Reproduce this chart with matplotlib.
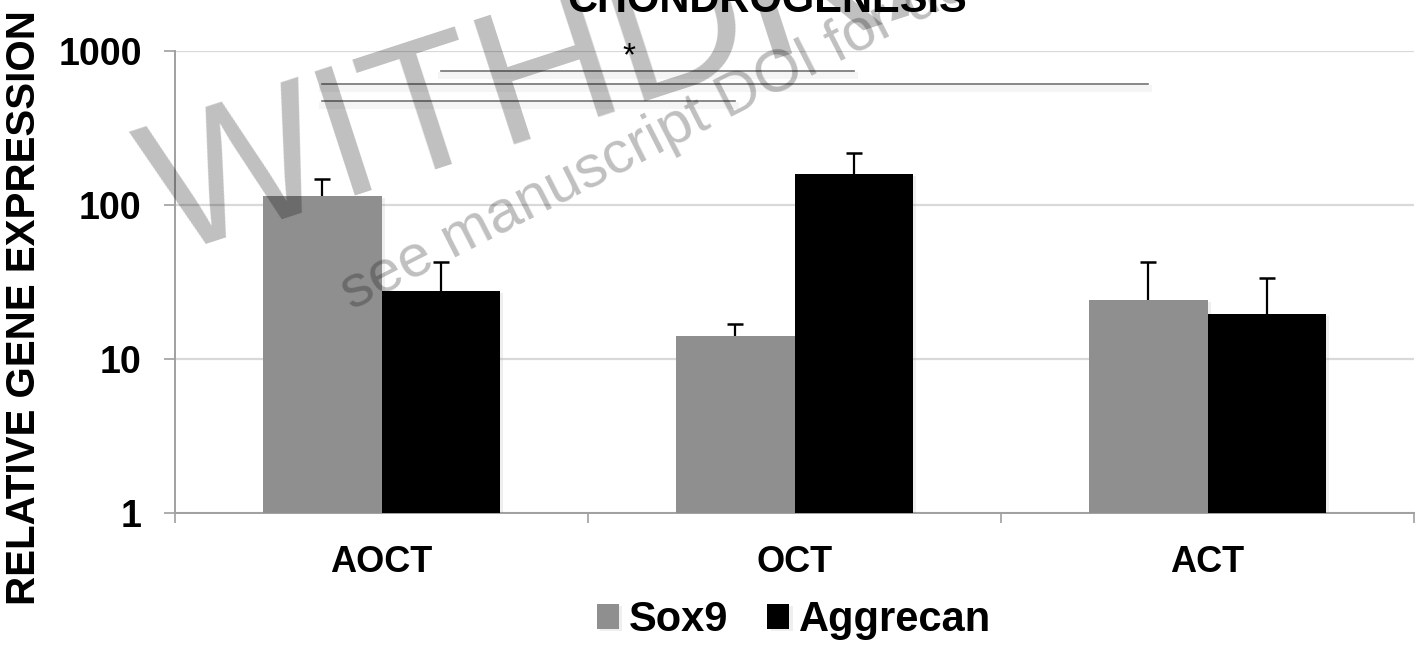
import numpy as np
import matplotlib
matplotlib.use("Agg")
import matplotlib.pyplot as plt
import matplotlib.patheffects as pe

plt.rcParams['font.family'] = ['Liberation Sans', 'DejaVu Sans']

# relative gene expression per construct
groups = ["AOCT", "OCT", "ACT"]
sox9 = [114, 14.1, 24.2]
sox9_err = [33, 2.8, 18.4]
aggrecan = [27.6, 159, 19.6]
aggrecan_err = [15, 59, 14]

# significance brackets: (series index, group a, group b, height)
brackets = [(1, 0, 1, 741), (0, 0, 2, 611), (0, 0, 1, 473)]

fig = plt.figure(figsize=(14.16, 6.46), dpi=100)
ax = fig.add_axes([175/1416, 1-513/646, 1239/1416, 462/646])

x = np.arange(len(groups))
w = 0.286
shadow = [pe.SimplePatchShadow(offset=(2.5, -1.5), shadow_rgbFace='gray', alpha=0.12), pe.Normal()]
ax.bar(x - w/2, sox9, w, color='#8f8f8f', label='Sox9', zorder=3, path_effects=shadow)
ax.bar(x + w/2, aggrecan, w, color='black', label='Aggrecan', zorder=3, path_effects=shadow)

# upper error bars only
for off, vals, errs in [(-w/2, sox9, sox9_err), (w/2, aggrecan, aggrecan_err)]:
    tops = np.array(vals) + np.array(errs)
    ax.vlines(x + off, vals, tops, color='black', lw=1.6, zorder=4)
    ax.plot(x + off, tops, ls='none', marker='_', ms=11, mew=1.8, color='black', zorder=4)

ax.set_yscale('log')
ax.set_ylim(1, 1000)
ax.set_xlim(-0.5, 2.5)
ax.set_yticks([1, 10, 100, 1000], labels=['1', '10', '100', '1000'])
ax.yaxis.set_minor_locator(matplotlib.ticker.NullLocator())
ax.tick_params(axis='y', length=8, width=1.2, color='#a0a0a0', pad=16,
               labelsize=27)
for lab in ax.get_yticklabels():
    lab.set_fontweight('bold')

ax.set_xticks([-0.5, 0.5, 1.5, 2.5], labels=[])
ax.set_xticks(x, labels=groups, minor=True)
ax.tick_params(axis='x', which='major', length=7, width=1.2, color='#a0a0a0')
ax.tick_params(axis='x', which='minor', length=0, pad=23, labelsize=26)
for lab in ax.get_xticklabels(minor=True):
    lab.set_fontweight('bold')

ax.grid(axis='y', color='#d9d9d9', linewidth=1.6, zorder=0)
ax.set_axisbelow(True)
for s in ['top', 'right']:
    ax.spines[s].set_visible(False)
for s in ['left', 'bottom']:
    ax.spines[s].set_color('#a0a0a0')
    ax.spines[s].set_linewidth(1.4)

# brackets between compared bars
line_fx = [pe.SimpleLineShadow(offset=(0, -3), shadow_color='gray', alpha=0.08, linewidth=5),
           pe.Normal()]
for series, a, b, h in brackets:
    off = -w/2 if series == 0 else w/2
    ax.plot([a + off, b + off], [h, h], color='#737373', lw=1.2, zorder=5,
            clip_on=False, path_effects=line_fx)
ax.annotate('*', (0.6, 1000), xytext=(0, -4.5), textcoords='offset points',
            ha='center', va='center', fontsize=24, zorder=5)

fig.text(767/1416, 1-12/646, 'CHONDROGENESIS', ha='center', va='baseline',
         fontsize=30, fontweight='bold')
fig.text(24/1416, 1-308/646, 'RELATIVE GENE EXPRESSION', rotation=90,
         ha='center', va='center', fontsize=29, fontweight='bold')

fig.legend(loc='center', bbox_to_anchor=(794/1416, 1-620/646), ncol=2, frameon=False,
           prop={'size': 30, 'weight': 'bold'}, handlelength=0.53, handleheight=0.53,
           handletextpad=0.24, columnspacing=0.94)

# watermark
fig.text(168/1416, 1-257/646, 'WITHDRAWN', rotation=18, rotation_mode='anchor',
         ha='left', va='baseline', fontsize=137, color='black', alpha=0.25, zorder=10)
fig.text(352/1416, 1-310/646, 'see manuscript DOI for details', rotation=27,
         rotation_mode='anchor', ha='left', va='baseline', fontsize=43,
         color='black', alpha=0.25, zorder=10)

fig.savefig('out.png', dpi=100)
